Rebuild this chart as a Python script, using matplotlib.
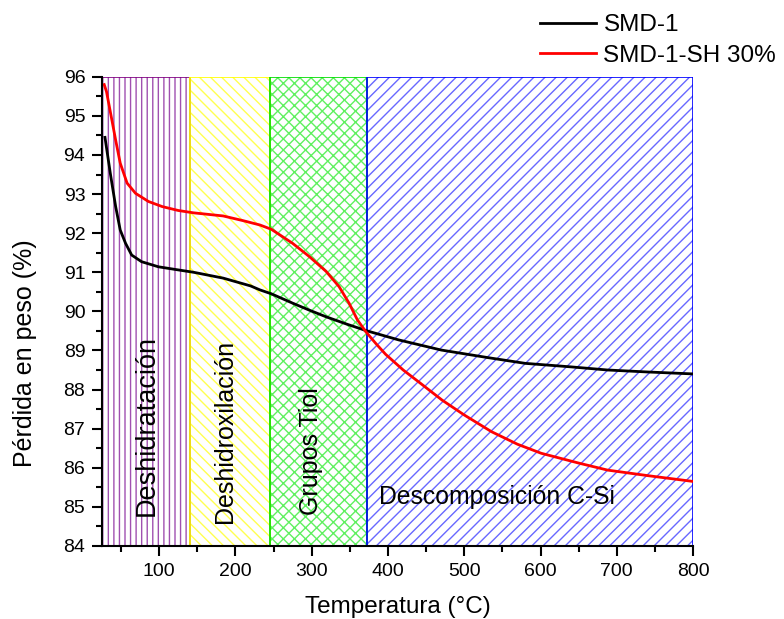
import matplotlib
matplotlib.use("Agg")
import matplotlib.pyplot as plt
from matplotlib.ticker import MultipleLocator

plt.rcParams['font.family'] = ['Liberation Sans', 'DejaVu Sans']
plt.rcParams['hatch.linewidth'] = 1.0

# datos
temp_smd = [29, 36, 43, 49, 56, 64, 77, 99, 125, 145, 184, 220, 232, 247,
            275, 297, 319, 345, 371, 414, 470, 530, 580, 640, 688, 740, 800]
peso_smd = [94.45, 93.53, 92.68, 92.08, 91.74, 91.44, 91.27, 91.14, 91.06,
            91.0, 90.85, 90.65, 90.55, 90.45, 90.21, 90.03, 89.86, 89.68, 89.51,
            89.27, 89.01, 88.82, 88.67, 88.58, 88.50, 88.45, 88.40]

temp_sh = [28, 31, 38, 43, 49, 58, 69, 86, 104, 125, 145, 184, 210, 232, 247,
           275, 297, 319, 336, 349, 360, 371, 384, 397, 420, 440, 471, 500, 536,
           570, 601, 650, 688, 740, 800]
peso_sh = [95.8, 95.62, 94.9, 94.38, 93.79, 93.28, 93.02, 92.81, 92.68, 92.58,
           92.52, 92.44, 92.32, 92.21, 92.10, 91.74, 91.40, 91.02, 90.63, 90.21,
           89.78, 89.48, 89.18, 88.9, 88.5, 88.2, 87.73, 87.35, 86.92, 86.6,
           86.37, 86.12, 85.94, 85.8, 85.65]

# regiones
reg_ini = [25, 140, 245, 372]
reg_fin = [140, 245, 372, 800]
reg_nombres = ['Deshidratación', 'Deshidroxilación', 'Grupos Tiol', 'Descomposición C-Si']
reg_hatch = ['|||', '\\\\\\', 'xxx', '///']
reg_hatch_color = ['#a050b0', '#ffff50', '#60f060', '#6868ff']
reg_borde = ['#800080', '#ffff00', '#00dd00', '#0000ff']

fig = plt.figure(figsize=(7.84, 6.19), dpi=100)
ax = fig.add_axes([0.130, 0.118, 0.754, 0.758])

for a, b, h, hc, bc in zip(reg_ini, reg_fin, reg_hatch, reg_hatch_color, reg_borde):
    ax.axvspan(a, b, ymin=0, ymax=1, facecolor='white', edgecolor=hc, hatch=h,
               linewidth=0, zorder=1)
    ax.axvspan(a, b, ymin=0, ymax=1, facecolor='none', edgecolor=bc,
               linewidth=1.2, zorder=2)

ax.plot(temp_smd, peso_smd, color='black', lw=2, label='SMD-1', zorder=5)
ax.plot(temp_sh, peso_sh, color='red', lw=2, label='SMD-1-SH 30%', zorder=5)

ax.text(84, 87.07, reg_nombres[0], rotation=90, ha='center', va='center', fontsize=19.5, zorder=6)
ax.text(187, 86.92, reg_nombres[1], rotation=90, ha='center', va='center', fontsize=18, zorder=6)
ax.text(299, 86.42, reg_nombres[2], rotation=90, ha='center', va='center', fontsize=18, zorder=6)
ax.text(388, 85.25, reg_nombres[3], ha='left', va='center', fontsize=17.8, zorder=6)

ax.set_xlim(25, 800)
ax.set_ylim(84, 96)
ax.set_xticks([100, 200, 300, 400, 500, 600, 700, 800])
ax.xaxis.set_minor_locator(MultipleLocator(50))
ax.set_yticks(range(84, 97))
ax.yaxis.set_minor_locator(MultipleLocator(0.5))
ax.tick_params(which='major', direction='out', length=7, width=1.5, labelsize=14, pad=5)
ax.tick_params(which='minor', direction='out', length=4, width=1.5)
for s in ['top', 'right']:
    ax.spines[s].set_visible(False)
for s in ['left', 'bottom']:
    ax.spines[s].set_linewidth(1.5)
    ax.spines[s].set_zorder(7)

ax.set_xlabel('Temperatura (°C)', fontsize=17.5)
ax.set_ylabel('Pérdida en peso (%)', fontsize=18)
ax.xaxis.set_label_coords(0.5, -0.107)
ax.yaxis.set_label_coords(-0.13, 0.41)
ax.yaxis.label.set_va('center')

fig.legend(loc='upper right', bbox_to_anchor=(1.018, 1.012), frameon=False,
           fontsize=17.5, handlelength=2.3, labelspacing=0.35, handletextpad=0.3)

fig.savefig('out.png', dpi=100)
